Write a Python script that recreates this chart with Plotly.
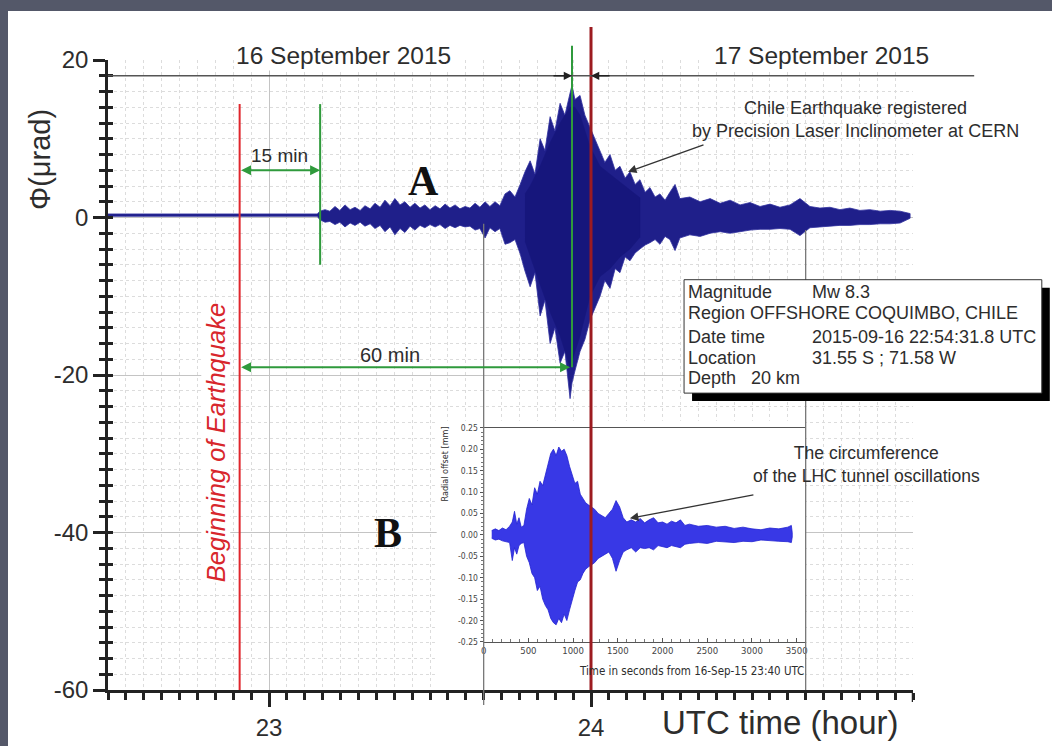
import plotly.graph_objects as go

# ---------------- data ----------------
# (A) Precision Laser Inclinometer at CERN: oscillation envelope (hours UTC, µrad)
main_t = [22.500, 23.150, 23.158, 23.174, 23.189, 23.205, 23.220, 23.236, 23.252, 23.267,
          23.283, 23.298, 23.314, 23.329, 23.345, 23.360, 23.376, 23.391, 23.407, 23.422,
          23.438, 23.453, 23.469, 23.484, 23.500, 23.516, 23.531, 23.547, 23.562, 23.578,
          23.593, 23.609, 23.624, 23.640, 23.655, 23.671, 23.686, 23.702, 23.717, 23.733,
          23.748, 23.764, 23.780, 23.795, 23.811, 23.826, 23.842, 23.857, 23.873, 23.888,
          23.904, 23.919, 23.935, 23.941, 23.950, 23.966, 23.981, 23.997, 24.012, 24.028,
          24.043, 24.059, 24.075, 24.090, 24.106, 24.121, 24.137, 24.152, 24.168, 24.183,
          24.199, 24.214, 24.230, 24.245, 24.261, 24.276, 24.307, 24.339, 24.370, 24.401,
          24.432, 24.463, 24.494, 24.525, 24.556, 24.587, 24.618, 24.649, 24.680, 24.711,
          24.742, 24.773, 24.804, 24.835, 24.866, 24.898, 24.929, 24.960, 24.991]
main_upper = [0.45, 0.45, 0.8, 1.0, 0.8, 1.4, 0.9, 1.6, 1.0, 1.3,
              0.9, 1.5, 1.1, 1.8, 1.3, 2.2, 1.5, 2.4, 1.6, 2.0,
              1.3, 1.8, 1.2, 1.6, 1.0, 1.5, 1.1, 1.7, 1.2, 1.6,
              1.1, 1.4, 1.2, 1.8, 1.3, 2.0, 1.4, 2.0, 1.5, 3.0,
              3.4, 2.6, 4.2, 5.8, 7.2, 5.5, 10.0, 8.5, 12.8, 11.0,
              14.5, 13.0, 15.8, 16.8, 15.0, 15.5, 13.0, 11.5, 10.0, 8.5,
              7.0, 8.0, 6.0, 6.5, 5.0, 5.8, 4.2, 4.8, 3.2, 3.8,
              2.6, 3.0, 2.2, 3.2, 4.2, 2.4, 2.6, 2.0, 2.4, 1.8,
              2.2, 1.6, 1.9, 1.4, 1.7, 1.3, 1.6, 2.4, 1.4, 1.2,
              1.3, 1.0, 1.2, 0.9, 1.0, 0.8, 0.9, 0.8, 0.5]
main_lower = [0.15, 0.15, -0.3, -0.6, -0.5, -0.9, -0.6, -1.2, -0.7, -1.0,
              -0.6, -1.1, -0.8, -1.4, -1.0, -1.8, -1.2, -2.2, -1.4, -1.9,
              -1.1, -1.6, -1.0, -1.3, -0.9, -1.2, -0.9, -1.4, -1.0, -1.3,
              -1.0, -1.2, -1.1, -1.6, -1.4, -2.6, -1.3, -1.8, -1.4, -3.4,
              -3.2, -2.8, -4.6, -6.8, -8.8, -7.0, -12.5, -10.5, -16.0, -14.0,
              -18.5, -17.0, -23.0, -21.0, -19.5, -17.0, -15.5, -13.0, -11.5, -10.0,
              -8.0, -9.0, -6.5, -7.0, -5.0, -5.5, -4.5, -4.0, -3.5, -3.2,
              -2.8, -3.4, -2.4, -2.8, -4.2, -2.6, -2.2, -2.4, -2.0, -1.8,
              -2.0, -1.8, -1.6, -1.5, -1.5, -1.4, -1.5, -2.3, -1.3, -1.2,
              -1.1, -1.0, -1.0, -0.9, -0.9, -0.8, -0.8, -0.7, -0.1]

# dense dark core of the main burst (hours UTC, µrad)
core_t = [23.795, 23.811, 23.842, 23.873, 23.904, 23.935, 23.950, 23.966, 23.997,
          24.028, 24.059, 24.090, 24.121, 24.152]
core_upper = [3.0, 4.0, 6.5, 9.5, 12.0, 14.0, 14.0, 13.0, 9.0,
              6.5, 5.5, 4.5, 3.5, 2.5]
core_lower = [-3.0, -5.0, -8.5, -12.0, -15.0, -19.0, -17.0, -15.0, -10.0,
              -7.5, -6.5, -5.0, -4.0, -2.5]

# (B) LHC tunnel circumference oscillation envelope (s from 23:40 UTC, mm)
inset_s = [90, 130, 170, 210, 250, 290, 320, 345, 370, 395,
           420, 450, 480, 510, 540, 570, 600, 630, 660, 690,
           720, 750, 780, 810, 840, 870, 900, 930, 960, 990,
           1020, 1050, 1080, 1110, 1140, 1170, 1200, 1240, 1280, 1320,
           1360, 1400, 1440, 1480, 1520, 1560, 1600, 1650, 1700, 1750,
           1800, 1850, 1900, 1950, 2000, 2050, 2100, 2150, 2200, 2250,
           2300, 2400, 2500, 2600, 2700, 2800, 2900, 3000, 3100, 3200,
           3300, 3400, 3440, 3450]
inset_upper = [0.010, 0.014, 0.010, 0.016, 0.012, 0.020, 0.030, 0.055, 0.025, 0.040,
               0.018, 0.022, 0.060, 0.085, 0.070, 0.110, 0.095, 0.125, 0.115, 0.140,
               0.165, 0.190, 0.200, 0.185, 0.205, 0.195, 0.200, 0.185, 0.160, 0.140,
               0.120, 0.125, 0.095, 0.085, 0.075, 0.070, 0.065, 0.060, 0.050, 0.045,
               0.040, 0.050, 0.060, 0.080, 0.065, 0.040, 0.030, 0.035, 0.030, 0.038,
               0.028, 0.035, 0.040, 0.028, 0.030, 0.025, 0.032, 0.028, 0.035, 0.022,
               0.025, 0.020, 0.022, 0.018, 0.020, 0.015, 0.018, 0.014, 0.012, 0.016,
               0.014, 0.018, 0.022, 0.005]
inset_lower = [-0.008, -0.012, -0.010, -0.014, -0.016, -0.018, -0.060, -0.030, -0.045, -0.025,
               -0.020, -0.018, -0.050, -0.065, -0.090, -0.100, -0.130, -0.120, -0.150, -0.165,
               -0.175, -0.195, -0.205, -0.210, -0.195, -0.205, -0.185, -0.200, -0.175, -0.150,
               -0.130, -0.110, -0.105, -0.090, -0.080, -0.075, -0.070, -0.065, -0.055, -0.050,
               -0.045, -0.040, -0.055, -0.085, -0.060, -0.040, -0.035, -0.030, -0.040, -0.030,
               -0.032, -0.030, -0.035, -0.025, -0.028, -0.030, -0.025, -0.028, -0.030, -0.022,
               -0.020, -0.018, -0.020, -0.015, -0.016, -0.018, -0.015, -0.016, -0.012, -0.014,
               -0.015, -0.016, -0.018, -0.005]

# event times (hours UTC)
quake_h = 22 + 54 / 60 + 31.8 / 3600      # 22:54:31.8 UTC
p_wave_h = quake_h + 15 / 60              # +15 min
peak_h = 23.941                           # main peak, ~60 min later
midnight_h = 24.0
inset_start_h = 23 + 40 / 60              # 23:40 UTC
inset_span_s = 3600

x_ticks = [23, 24]
x_ticklabels = ["23", "24"]
y_ticks = [-60, -40, -20, 0, 20]
y_ticklabels = ["-60", "-40", "-20", "0", "20"]
inset_xticks = [0, 500, 1000, 1500, 2000, 2500, 3000, 3500]
inset_yticks = [-0.25, -0.20, -0.15, -0.10, -0.05, 0.0, 0.05, 0.10, 0.15, 0.20, 0.25]
inset_yticklabels = ["-0.25", "-0.20", "-0.15", "-0.10", "-0.05", "0.00",
                     "0.05", "0.10", "0.15", "0.20", "0.25"]

info_labels = ["Magnitude", "Region OFFSHORE COQUIMBO, CHILE", "Date time", "Location",
               "Depth\u00a0\u00a0\u00a020 km"]
info_values = ["Mw 8.3", "", "2015-09-16 22:54:31.8 UTC", "31.55 S ; 71.58 W", ""]

# ---------------- geometry ----------------
W, H = 1052, 746
ML, MR, MT, MB = 108, 139, 60, 56
X_RANGE = [22.5, 25.0]
Y_RANGE = [-60, 20]
PW, PH = W - ML - MR, H - MT - MB
PX_X = PW / (X_RANGE[1] - X_RANGE[0])   # px per hour
PX_Y = PH / (Y_RANGE[1] - Y_RANGE[0])   # px per µrad


def xp(v):
    return (v - X_RANGE[0]) / (X_RANGE[1] - X_RANGE[0])


def yp(v):
    return (v - Y_RANGE[0]) / (Y_RANGE[1] - Y_RANGE[0])


inset_end_h = inset_start_h + inset_span_s / 3600

FONT = "Liberation Sans, Arial, Helvetica, sans-serif"
SERIF = "Liberation Serif, Times New Roman, serif"
NARROW = "Liberation Sans Narrow, DejaVu Sans Condensed, Arial Narrow, sans-serif"
TXT = "#2d2d2d"
RED = "#e0262c"
DARKRED = "#9c1b20"
GREEN = "#2f9a3c"
FRAME = "#545869"

fig = go.Figure()

fig.add_trace(go.Scatter(
    x=main_t + main_t[::-1], y=main_upper + main_lower[::-1],
    mode="lines", fill="toself", fillcolor="#1f1f8a",
    line=dict(color="#30309e", width=0.8), hoverinfo="skip", showlegend=False))

fig.add_trace(go.Scatter(
    x=core_t + core_t[::-1], y=core_upper + core_lower[::-1],
    mode="lines", fill="toself", fillcolor="#16167c",
    line=dict(color="#16167c", width=0.5), hoverinfo="skip", showlegend=False))

fig.add_trace(go.Scatter(
    x=inset_s + inset_s[::-1], y=inset_upper + inset_lower[::-1],
    xaxis="x2", yaxis="y2", mode="lines", fill="toself", fillcolor="#3838e6",
    line=dict(color="#2222d2", width=0.8), hoverinfo="skip", showlegend=False))

fig.add_trace(go.Scatter(x=[None], y=[None], xaxis="x", yaxis="y3",
                         showlegend=False, hoverinfo="skip"))

shapes = []
# slide: white page on dark frame
shapes.append(dict(type="rect", xref="paper", yref="paper", layer="below",
                   x0=(8 - ML) / PW, x1=(W + 5 - ML) / PW,
                   y0=(H - MB - (H + 5)) / PH, y1=(H - MB - 11) / PH,
                   fillcolor="white", line=dict(width=0)))
# white patch behind inset B
shapes.append(dict(type="rect", xref="x", yref="y", layer="between",
                   x0=inset_start_h - 47 / PX_X, x1=inset_end_h, y0=-59.7, y1=-25.8,
                   fillcolor="white", line=dict(width=0)))
# inset frame verticals
shapes.append(dict(type="line", xref="x", yref="paper", layer="above",
                   x0=inset_start_h, x1=inset_start_h, y0=yp(-61.9), y1=yp(-0.8),
                   line=dict(color="#777777", width=1.3)))
shapes.append(dict(type="line", xref="x", yref="paper", layer="above",
                   x0=inset_end_h, x1=inset_end_h, y0=yp(-60), y1=yp(-1.6),
                   line=dict(color="#777777", width=1.3)))
# event lines
shapes.append(dict(type="line", xref="x", yref="y", layer="above",
                   x0=quake_h, x1=quake_h, y0=-60, y1=14.4, line=dict(color=RED, width=2)))
shapes.append(dict(type="line", xref="x", yref="y", layer="above",
                   x0=p_wave_h, x1=p_wave_h, y0=-6.0, y1=14.4, line=dict(color=GREEN, width=2)))
shapes.append(dict(type="line", xref="x", yref="paper", layer="above",
                   x0=peak_h, x1=peak_h, y0=yp(-19.0), y1=yp(21.8),
                   line=dict(color=GREEN, width=2)))
shapes.append(dict(type="line", xref="x", yref="paper", layer="above",
                   x0=midnight_h, x1=midnight_h, y0=yp(-60), y1=yp(24.2),
                   line=dict(color=DARKRED, width=3)))
# date separator line
shapes.append(dict(type="line", xref="paper", yref="y", layer="above",
                   x0=0, x1=xp(25.19), y0=18, y1=18, line=dict(color="#555555", width=1.5)))
# x-axis end tick
shapes.append(dict(type="line", xref="x", yref="paper", layer="above",
                   x0=X_RANGE[1], x1=X_RANGE[1], y0=yp(-60) - 12 / PH, y1=yp(-60),
                   line=dict(color="#222222", width=2.5)))
# info box with shadow
bx0, bx1, by0, by1 = 24.289, 25.40, -22.3, -7.9
sdx, sdy = 8 / PX_X, 8 / PX_Y
shapes.append(dict(type="rect", xref="paper", yref="paper", layer="above",
                   x0=xp(bx0 + sdx), x1=xp(bx1 + sdx), y0=yp(by0 - sdy), y1=yp(by1 - sdy),
                   fillcolor="black", line=dict(width=0)))
shapes.append(dict(type="rect", xref="paper", yref="paper", layer="above",
                   x0=xp(bx0), x1=xp(bx1), y0=yp(by0), y1=yp(by1),
                   fillcolor="white", line=dict(color="#333333", width=1)))

ann = []


def text(x, y, s, size, color=TXT, family=FONT, xref="x", yref="y", **kw):
    d = dict(x=x, y=y, text=s, xref=xref, yref=yref, showarrow=False,
             xanchor="center", yanchor="middle",
             font=dict(size=size, color=color, family=family))
    d.update(kw)
    ann.append(d)


def arrow(x, y, ax, ay, color, width=2, side="end", axref="x", ayref="y", size=1.0, head=2):
    ann.append(dict(x=x, y=y, ax=ax, ay=ay, xref="x", yref="y", axref=axref, ayref=ayref,
                    text="", showarrow=True, arrowhead=head, startarrowhead=head,
                    arrowside=side, arrowcolor=color, arrowwidth=width, arrowsize=size,
                    startarrowsize=size, standoff=0, startstandoff=0))


# dates (above the plot area -> paper y)
text(23.232, yp(20.63), "16 September 2015", 24.5, yref="paper", bgcolor="white", borderpad=1)
text(24.717, yp(20.63), "17 September 2015", 24.5, yref="paper", bgcolor="white", borderpad=1)
arrow(peak_h, 18, -20, 0, "#222222", width=1.5, axref="pixel", ayref="pixel", size=1.1)
arrow(midnight_h, 18, 20, 0, "#222222", width=1.5, axref="pixel", ayref="pixel", size=1.1)

# delays
arrow(p_wave_h, 6.0, quake_h, 6.0, GREEN, width=2, side="end+start", size=1.0)
text((quake_h + p_wave_h) / 2, 7.9, "15 min", 19)
arrow(peak_h - 0.006, -19.0, quake_h, -19.0, GREEN, width=2, side="end+start", size=1.0)
text(23.376, -17.5, "60 min", 20)

text(quake_h - 0.075, -28.6, "<i>Beginning of Earthquake</i>", 25.5, color="#d8262c",
     textangle=-90, bgcolor="white", borderpad=0)

text(23.481, 4.6, "<b>A</b>", 42, color="#111111", family=SERIF)
text(23.370, -40.0, "<b>B</b>", 42, color="#111111", family=SERIF)

text(24.82, 12.4, "Chile Earthquake registered<br>by Precision Laser Inclinometer at CERN", 18)
arrow(24.115, 5.8, 24.354, 9.3, "#333333", width=1.3, size=1.3)

text(24.857, -31.4, "The circumference<br>of the LHC tunnel oscillations", 17.5)
arrow(24.121, -38.2, 24.509, -35.2, "#333333", width=1.3, size=1.3)

# info box rows
row_y = [-9.45, -12.15, -15.15, -17.85, -20.4]
for lab, val, yy in zip(info_labels, info_values, row_y):
    text(24.295, yy, lab, 18, xanchor="left")
    if val:
        text(24.680, yy, val, 18, xanchor="left")

# inset labels
text(inset_end_h, -57.6, "Time in seconds from 16-Sep-15 23:40 UTC", 11.5, family=NARROW,
     xanchor="right")
text(23.545, -31.3, "Radial offset [mm]", 9, family=NARROW, textangle=-90)

# axis titles
text(24.214, (H - MB - 722) / PH, "UTC time (hour)", 33, xanchor="left", yref="paper")
text((40 - ML) / PW, 7.3, "\u03a6(\u03bcrad)", 29, textangle=-90, xref="paper")

AX = "#222222"
fig.update_layout(
    width=W, height=H, margin=dict(l=ML, r=MR, t=MT, b=MB, autoexpand=False),
    paper_bgcolor=FRAME, plot_bgcolor="white",
    font=dict(family=FONT, color=TXT), showlegend=False,
    shapes=shapes, annotations=ann,
    xaxis=dict(range=X_RANGE, domain=[0, 1], anchor="y", tickmode="array",
               tickvals=x_ticks, ticktext=x_ticklabels, ticks="outside", ticklen=14,
               tickwidth=2.5, tickcolor=AX, showline=True, linecolor=AX, linewidth=2.5,
               showgrid=True, gridcolor="#c4c4c4", gridwidth=1, zeroline=False,
               tickfont=dict(size=24, color=TXT),
               minor=dict(tick0=X_RANGE[0], dtick=1 / 18, ticks="outside", ticklen=7,
                          tickwidth=2.5, tickcolor=AX, showgrid=True,
                          gridcolor="#dcdcdc", griddash="dot", gridwidth=1)),
    yaxis=dict(range=Y_RANGE, domain=[0, 1], anchor="x", tickmode="array", tickvals=y_ticks,
               ticktext=y_ticklabels,
               ticks="outside", ticklen=12, tickwidth=2.5, tickcolor=AX, showline=True,
               linecolor=AX, linewidth=2.5, showgrid=True, gridcolor="#c4c4c4",
               zeroline=False, tickfont=dict(size=24, color=TXT),
               minor=dict(tick0=0, dtick=2, ticks="outside", ticklen=6, tickwidth=2.5,
                          tickcolor=AX, showgrid=True, gridcolor="#dcdcdc",
                          griddash="dot", gridwidth=1)),
    yaxis3=dict(range=Y_RANGE, overlaying="y", anchor="x", side="left", tickmode="array",
                tickvals=y_ticks, ticks="inside", ticklen=5, tickwidth=2.5, tickcolor=AX,
                showticklabels=False, showgrid=False, zeroline=False, showline=False,
                minor=dict(tick0=0, dtick=2, ticks="inside", ticklen=5, tickwidth=2.5,
                           tickcolor=AX, showgrid=False)),
    xaxis2=dict(range=[0, inset_span_s], domain=[xp(inset_start_h), xp(inset_end_h)],
                anchor="y2", tickmode="array", tickvals=inset_xticks, ticks="inside",
                ticklen=4, tickwidth=1, tickcolor="#555555", showline=True,
                linecolor="#555555", linewidth=1.2, mirror=True, showgrid=False,
                zeroline=False, tickfont=dict(size=9.5, color="#444444", family=NARROW),
                minor=dict(dtick=100, ticks="inside", ticklen=3, tickcolor="#777777")),
    yaxis2=dict(range=[-0.25, 0.25], domain=[yp(-53.9), yp(-26.7)], anchor="x2",
                tickmode="array", tickvals=inset_yticks, ticktext=inset_yticklabels,
                ticks="outside", ticklen=3, tickwidth=1, tickcolor="#555555",
                showline=True, linecolor="#555555", linewidth=1.2, showgrid=False,
                zeroline=False, tickfont=dict(size=8.5, color="#444444", family=NARROW),
                minor=dict(dtick=0.01, ticks="outside", ticklen=2, tickcolor="#777777")),
)

fig.write_html(
    "out.html",
    config={"displayModeBar": False},
    post_script=("document.documentElement.style.margin='0';"
                 "document.body.style.margin='0';document.body.style.padding='0';"
                 "document.body.style.overflow='hidden';"
                 "document.body.style.background='" + FRAME + "';"),
)
